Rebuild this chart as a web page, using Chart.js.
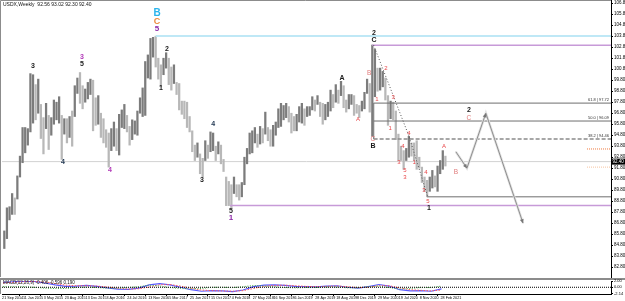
<!DOCTYPE html>
<html>
<head>
<meta charset="utf-8">
<script src="https://cdn.jsdelivr.net/npm/chart.js@4.4.1/dist/chart.umd.min.js"></script>
<style>
html, body { margin: 0; padding: 0; background: #fff; }
#wrap { position: relative; width: 625px; height: 301px; overflow: hidden; }
#main { position: absolute; left: 0; top: 0; width: 625px; height: 278px; }
#macd { position: absolute; left: 0; top: 278px; width: 625px; height: 23px; }
</style>
</head>
<body>
<div id="wrap">
<canvas id="main" width="625" height="278"></canvas>
<canvas id="macd" width="625" height="23"></canvas>
</div>
<script>
// USDX weekly, one bar = two weeks, first bar = week of 13 Oct 2014
var barLow = [
  84.5, 85.4, 87.1, 87.6, 87.6, 89.0, 91.0, 92.3, 93.2, 93.9,
  95.1, 95.9, 96.2, 96.8, 94.5, 93.1, 95.4, 93.5, 94.8, 95.8,
  96.2, 95.9, 92.6, 94.9, 94.1, 94.6, 93.8, 96.5, 98.6, 97.7,
  97.2, 97.8, 98.1, 98.5, 95.2, 95.7, 95.8, 94.6, 94.1, 93.7,
  91.9, 93.4, 93.8, 93.4, 93.0, 95.5, 95.4, 95.1, 93.9, 94.4,
  94.9, 94.8, 96.8, 96.5, 96.6, 100.0, 99.9, 101.9, 101.0, 99.9,
  99.2, 100.3, 100.9, 99.4, 98.9, 99.5, 98.5, 97.1, 96.7, 96.3,
  95.5, 95.1, 93.3, 92.5, 92.8, 91.3, 91.0, 92.5, 92.7, 93.3,
  93.4, 92.5, 93.1, 92.2, 91.5, 88.4, 88.4, 88.2, 89.5, 89.2,
  88.9, 89.2, 90.3, 92.2, 93.1, 93.2, 94.1, 93.7, 94.0, 94.1,
  94.9, 94.3, 93.8, 93.8, 94.8, 95.5, 95.6, 96.2, 96.4, 96.0,
  95.0, 95.2, 95.2, 96.0, 95.9, 95.7, 96.5, 96.6, 97.1, 97.0,
  97.6, 96.5, 95.8, 96.2, 96.5, 97.0, 97.3, 97.8, 97.7, 98.4,
  97.3, 96.9, 97.2, 97.6, 96.6, 96.8, 96.4, 97.0, 97.2, 98.6,
  96.9, 94.7, 98.3, 98.8, 98.9, 99.2, 98.0, 95.7, 96.3, 96.2,
  94.4, 92.5, 92.5, 91.7, 92.5, 92.8, 92.9, 92.5, 91.7, 91.8,
  90.5, 89.7, 89.2, 89.7, 90.0, 90.1, 89.7, 91.3, 91.7, 92.0
];
var barHigh = [
  86.1, 88.2, 88.3, 89.5, 89.1, 91.1, 92.9, 95.5, 95.5, 95.4,
  100.4, 100.3, 99.4, 99.9, 97.6, 96.4, 97.7, 96.6, 96.4, 98.0,
  97.8, 98.3, 96.6, 96.3, 96.3, 96.5, 97.0, 99.3, 100.0, 100.5,
  99.3, 99.0, 99.6, 99.9, 99.8, 98.2, 98.4, 96.8, 96.3, 95.3,
  95.0, 95.4, 96.0, 95.4, 96.7, 97.1, 97.6, 96.6, 95.6, 96.2,
  96.1, 97.0, 98.2, 99.1, 101.5, 102.1, 103.6, 103.7, 103.8, 101.8,
  101.2, 101.8, 102.3, 101.8, 101.0, 101.2, 99.6, 99.5, 97.9, 97.9,
  97.8, 96.5, 95.2, 93.9, 94.1, 93.1, 92.7, 94.3, 93.9, 95.1,
  95.0, 93.8, 94.2, 93.9, 92.6, 91.0, 90.6, 90.3, 91.0, 90.3,
  90.3, 90.5, 92.8, 93.6, 95.0, 95.2, 95.5, 94.9, 95.6, 95.4,
  96.9, 95.5, 95.3, 95.7, 96.0, 97.2, 97.7, 97.5, 97.7, 97.4,
  96.8, 96.5, 96.7, 97.4, 97.7, 97.2, 97.4, 97.4, 98.3, 98.0,
  98.4, 97.8, 97.7, 97.6, 97.8, 98.9, 98.5, 99.4, 98.9, 99.7,
  99.3, 98.0, 98.5, 98.5, 98.4, 97.6, 97.5, 97.9, 98.7, 99.9,
  99.5, 103.0, 102.6, 100.9, 100.9, 100.6, 100.0, 98.4, 97.9, 97.8,
  97.0, 94.9, 93.8, 93.4, 93.6, 94.7, 94.1, 94.1, 94.3, 92.8,
  91.9, 91.0, 90.7, 91.0, 91.6, 91.1, 92.0, 92.5, 93.4, 92.9
];
var lastClose = 92.40;
var headerText = 'USDX,Weekly  92.56 93.02 92.30 92.40';

var priceTicks = [106.80, 105.80, 104.80, 103.80, 102.80, 101.80, 100.80, 99.80, 98.80,
  97.80, 96.80, 95.80, 94.80, 93.80, 92.80, 91.80, 90.80, 89.80, 88.80, 87.80,
  86.80, 85.80, 84.80, 83.80, 82.80];

var dateTicks = ['21 Sep 2014', '11 Jan 2015', '3 May 2015', '23 Aug 2015', '13 Dec 2015',
  '3 Apr 2016', '24 Jul 2016', '13 Nov 2016', '5 Mar 2017', '25 Jun 2017', '15 Oct 2017',
  '4 Feb 2018', '27 May 2018', '16 Sep 2018', '6 Jan 2019', '28 Apr 2019', '18 Aug 2019',
  '8 Dec 2019', '29 Mar 2020', '19 Jul 2020', '8 Nov 2020', '28 Feb 2021'];
var dateTickWeeks = [-3, 13, 29, 45, 61, 77, 93, 109, 125, 141, 157, 173, 189, 205, 221,
  237, 253, 269, 285, 301, 317, 333];

// MACD(12,26,9), one value every 8 weeks
var macdLine = [1.6, 1.8, 2.0, 1.9, 1.4, 0.8, 0.3, 0.4, 0.6, 0.3, -0.2, -0.6, -0.7, -0.3,
  0.8, 1.2, 0.8, 0.0, -0.8, -1.3, -1.1, -1.2, -1.4, -0.9, 0.2, 0.7, 0.8, 0.6, 0.3, 0.2,
  0.1, 0.4, 0.5, 0.0, -0.3, 0.2, 0.9, 0.4, -0.8, -1.2, -1.1, -1.3, -0.5];
var macdSignal = [1.4, 1.6, 1.8, 1.9, 1.7, 1.2, 0.7, 0.5, 0.5, 0.4, 0.1, -0.3, -0.6, -0.5,
  0.1, 0.8, 0.9, 0.4, -0.3, -0.9, -1.1, -1.2, -1.3, -1.1, -0.4, 0.3, 0.6, 0.7, 0.5, 0.3,
  0.2, 0.3, 0.4, 0.2, -0.1, 0.0, 0.5, 0.5, -0.2, -0.8, -1.0, -1.2, -0.9];
var macdHist = [0.2, 0.2, 0.2, 0.0, -0.3, -0.4, -0.4, -0.1, 0.1, -0.1, -0.3, -0.3, -0.1, 0.2,
  0.7, 0.4, -0.1, -0.4, -0.5, -0.4, 0.0, 0.0, -0.1, 0.2, 0.6, 0.4, 0.2, -0.1, -0.2, -0.1,
  -0.1, 0.1, 0.1, -0.2, -0.2, 0.2, 0.4, -0.1, -0.6, -0.4, -0.1, -0.1, 0.4];
var macdTicks = [2.00, 0.00, -2.14];
var macdText = 'MACD(12,26,9) -0.406 -0.596 0.190';

// horizontal levels: [from week, price, kind]
var hLevels = [[117, 103.82, 'cyan'], [283, 102.99, 'purple'], [174, 88.40, 'purple']];
// fibonacci of the 2020 high to the 2021 low
var fibStartWeek = 284;
var fibLevels = [['61.8', 97.72], ['50.0', 96.09], ['38.2', 94.46]];
var fibZero = [325, 89.20];
var waveConnector = [[284, 102.99], [311, 94.74], [325.5, 89.20]];
var projection = [[347, 93.3], [355.5, 91.8], [370, 96.8], [398.5, 86.8]];
var pendingLines = [[447.5, 93.55, 'orange'], [447.5, 91.90, 'peach']];

// wave counts: [week, price, text, kind]
var waveLabels = [
  [23, 101.1, '3', 'k'], [60.5, 101.9, '3', 'm'], [60.5, 101.25, '5', 'k'],
  [118, 105.9, 'B', 'cyan'], [118, 105.1, 'C', 'orange'], [118, 104.45, '5', 'violet'],
  [125.7, 102.65, '2', 'k'], [121, 99.1, '1', 'k'], [46, 92.35, '4', 'navy'],
  [82, 91.65, '4', 'm'], [152.5, 90.75, '3', 'k'], [161, 95.8, '4', 'navy'],
  [174.7, 87.9, '5', 'k'], [174.7, 87.25, '1', 'violet'], [259.8, 100.0, 'A', 'k'],
  [280.5, 100.45, 'B', 'pink'], [272, 96.2, 'A', 'red'], [284.3, 104.1, '2', 'k'],
  [284.3, 103.45, 'C', 'k'], [283.5, 94.45, 'C', 'pink'], [283.5, 93.8, 'B', 'k'],
  [293.5, 100.9, '2', 'red'], [286.6, 98.1, '1', 'red'], [298.9, 98.2, '3', 'red'],
  [296.6, 95.45, '1', 'red'], [311.1, 95.0, '4', 'red'], [306.5, 93.75, '4', 'red'],
  [315, 92.35, '1', 'red'], [303.4, 92.35, '3', 'red'], [308, 91.65, '5', 'red'],
  [308, 91.0, '3', 'red'], [324, 91.45, '4', 'red'], [322.6, 89.8, '3', 'red'],
  [325.7, 88.8, '5', 'red'], [326.4, 88.15, '1', 'k'], [338, 93.75, 'A', 'red'],
  [347, 91.45, 'B', 'pink'], [357, 97.1, '2', 'k'], [357, 96.35, 'C', 'pink']
];

var weekMin = -0.77, weekMax = 465.9;

var labelStyle = {
  k: ['bold 7px Arial', '#1a1a1a'],
  m: ['bold 7px Arial', '#b23ab8'],
  cyan: ['bold 10px Arial', '#2ab4ec'],
  orange: ['bold 9px Arial', '#ec8a3c'],
  violet: ['bold 8px Arial', '#8d2aa8'],
  navy: ['bold 7px Arial', '#1f3550'],
  pink: ['6.5px Arial', '#e07a7a'],
  red: ['6px Arial', '#e8474a']
};
var levelColor = { cyan: '#bfe8f6', purple: '#c79ad8', orange: '#f0783c', peach: '#f6c29e' };

Chart.defaults.font.family = 'Arial, "Liberation Sans", sans-serif';

function pts(list) {
  return list.map(function(p) { return { x: p[0], y: p[1] }; });
}

var lineSets = [];
lineSets.push({ type: 'line', data: pts([[weekMin, lastClose], [weekMax, lastClose]]),
  borderColor: '#d2d2d2', borderWidth: 1, order: 20 });
hLevels.forEach(function(l) {
  lineSets.push({ type: 'line', data: pts([[l[0], l[1]], [weekMax, l[1]]]),
    borderColor: levelColor[l[2]], borderWidth: l[2] === 'cyan' ? 2 : 1.5, order: 4 });
});
fibLevels.forEach(function(f, i) {
  lineSets.push({ type: 'line', data: pts([[fibStartWeek, f[1]], [weekMax, f[1]]]),
    borderColor: i === 2 ? '#8a8a8a' : '#6e6e6e', borderWidth: i === 2 ? 1.6 : 1,
    borderDash: i === 2 ? [4, 2] : [], order: 3 });
});
lineSets.push({ type: 'line', data: pts([[fibZero[0], fibZero[1]], [weekMax, fibZero[1]]]),
  borderColor: '#6e6e6e', borderWidth: 1, order: 3 });
lineSets.push({ type: 'line', data: pts([[fibStartWeek, fibLevels[0][1]], [fibStartWeek, fibLevels[2][1]]]),
  borderColor: '#8a8a8a', borderWidth: 1, order: 3 });
lineSets.push({ type: 'line', data: pts(waveConnector),
  borderColor: '#555', borderWidth: 1, borderDash: [1, 2], order: 2 });
lineSets.push({ type: 'line', data: pts(projection),
  borderColor: '#e2e2e2', borderWidth: 2.5, order: 2 });
lineSets.push({ type: 'line', data: pts(projection),
  borderColor: '#8e8e8e', borderWidth: 1, order: 1 });
pendingLines.forEach(function(l) {
  lineSets.push({ type: 'line', data: pts([[l[0], l[1]], [weekMax, l[1]]]),
    borderColor: levelColor[l[2]], borderWidth: 1, borderDash: [1, 1], order: 1 });
});

var bars = {
  type: 'bar',
  data: barLow.map(function(lo, k) { return { x: 2 * k + 1, y: [lo, barHigh[k]] }; }),
  backgroundColor: function(c) {
    var i = c.dataIndex;
    if (i > 0 && barHigh[i] + barLow[i] < barHigh[i - 1] + barLow[i - 1]) return '#b8b8b8';
    return '#7c7c7c';
  },
  barThickness: 1.6,
  grouped: false,
  order: 10
};

function arrowHead(ctx, x0, y0, x1, y1) {
  var a = Math.atan2(y1 - y0, x1 - x0), s = 4.5;
  ctx.beginPath();
  ctx.moveTo(x1, y1);
  ctx.lineTo(x1 - s * Math.cos(a - 0.45), y1 - s * Math.sin(a - 0.45));
  ctx.lineTo(x1 - s * Math.cos(a + 0.45), y1 - s * Math.sin(a + 0.45));
  ctx.closePath();
  ctx.fill();
}

var mainDeco = {
  id: 'mainDeco',
  afterDatasetsDraw: function(chart) {
    var c = chart.ctx, xs = chart.scales.x, ys = chart.scales.y, a = chart.chartArea;
    c.save();
    // frame
    c.strokeStyle = '#8c8c8c';
    c.lineWidth = 1;
    c.beginPath();
    c.moveTo(0.5, a.bottom); c.lineTo(0.5, 0.5); c.lineTo(a.right, 0.5);
    c.stroke();
    // arrowheads on the projection
    c.fillStyle = '#777';
    for (var i = 1; i < projection.length; i++) {
      arrowHead(c, xs.getPixelForValue(projection[i - 1][0]), ys.getPixelForValue(projection[i - 1][1]),
        xs.getPixelForValue(projection[i][0]), ys.getPixelForValue(projection[i][1]));
    }
    // wave labels
    c.textAlign = 'center';
    c.textBaseline = 'middle';
    waveLabels.forEach(function(l) {
      var st = labelStyle[l[3]];
      c.font = st[0];
      c.fillStyle = st[1];
      c.fillText(l[2], xs.getPixelForValue(l[0]), ys.getPixelForValue(l[1]));
    });
    // fib texts
    c.font = '4px Arial';
    c.fillStyle = '#333';
    c.textAlign = 'right';
    c.textBaseline = 'bottom';
    fibLevels.forEach(function(f) {
      c.fillText(f[0] + ' | ' + f[1].toFixed(2), a.right - 2, ys.getPixelForValue(f[1]) - 1);
    });
    // header
    c.font = '5px Arial';
    c.fillStyle = '#111';
    c.textAlign = 'left';
    c.textBaseline = 'top';
    c.fillText(headerText, 3, 2);
    // current price box
    var py = ys.getPixelForValue(lastClose);
    c.fillStyle = '#000';
    c.fillRect(a.right, py - 3, 14, 6);
    c.fillStyle = '#fff';
    c.font = '4.5px Arial';
    c.textBaseline = 'middle';
    c.fillText(lastClose.toFixed(2), a.right + 1.5, py);
    c.restore();
  }
};

new Chart(document.getElementById('main'), {
  type: 'bar',
  data: { datasets: [bars].concat(lineSets) },
  options: {
    responsive: false,
    animation: false,
    devicePixelRatio: 1,
    layout: { padding: { left: 2, top: 0, right: 0, bottom: 1 } },
    elements: { point: { radius: 0 }, line: { tension: 0 } },
    plugins: { legend: { display: false }, tooltip: { enabled: false } },
    scales: {
      x: { type: 'linear', min: weekMin, max: weekMax, display: false, offset: false },
      y: {
        position: 'right',
        min: 103.82 - 241 / 11,
        max: 103.82 + 36 / 11,
        afterBuildTicks: function(s) { s.ticks = priceTicks.map(function(v) { return { value: v }; }); },
        afterFit: function(s) { s.width = 14; s.paddingTop = 0; s.paddingBottom = 0; },
        ticks: {
          autoSkip: false, padding: 1, color: '#000', font: { size: 4.5 },
          callback: function(v) { return Number(v).toFixed(2); }
        },
        grid: { drawOnChartArea: false, tickLength: 2, color: '#000' },
        border: { color: '#000' }
      }
    }
  },
  plugins: [mainDeco]
});

var macdDeco = {
  id: 'macdDeco',
  beforeDraw: function(chart) {
    var c = chart.ctx;
    c.save();
    c.fillStyle = '#8c8c8c';
    c.fillRect(0, 0, 625, 2);
    c.fillRect(0, 2, 1, chart.chartArea.bottom - 2);
    c.restore();
  },
  afterDatasetsDraw: function(chart) {
    var c = chart.ctx;
    c.save();
    c.font = '4.5px Arial';
    c.fillStyle = '#111';
    c.textAlign = 'left';
    c.textBaseline = 'top';
    c.fillText(macdText, 3, 3);
    c.restore();
  }
};

function macdPts(list) {
  return list.map(function(v, i) { return { x: i * 8, y: v }; });
}

new Chart(document.getElementById('macd'), {
  type: 'line',
  data: {
    datasets: [
      { data: pts([[weekMin, 0], [weekMax, 0]]), borderColor: '#000', borderWidth: 1, borderDash: [1, 1] },
      { data: macdPts(macdHist), borderColor: '#3fa83f', borderWidth: 1, borderDash: [1, 1.5] },
      { data: macdPts(macdSignal), borderColor: '#ff5a5a', borderWidth: 1, borderDash: [1.5, 1.5] },
      { data: macdPts(macdLine), borderColor: '#5a5aff', borderWidth: 1.2 }
    ]
  },
  options: {
    responsive: false,
    animation: false,
    devicePixelRatio: 1,
    layout: { padding: { left: 2, top: 3, right: 0, bottom: 0 } },
    elements: { point: { radius: 0 }, line: { tension: 0 } },
    plugins: { legend: { display: false }, tooltip: { enabled: false } },
    scales: {
      x: {
        type: 'linear', min: weekMin, max: weekMax, offset: false,
        afterBuildTicks: function(s) { s.ticks = dateTickWeeks.map(function(v) { return { value: v }; }); },
        afterFit: function(s) { s.height = 7; s.paddingLeft = 0; s.paddingRight = 0; },
        ticks: {
          autoSkip: false, maxRotation: 0, align: 'start', labelOffset: 3, padding: 0,
          color: '#000', font: { size: 3.7 },
          callback: function(v, i) { return dateTicks[i]; }
        },
        grid: { drawOnChartArea: false, tickLength: 2, color: '#000' },
        border: { color: '#000' }
      },
      y: {
        position: 'right', min: -2.2, max: 2.05,
        afterBuildTicks: function(s) { s.ticks = macdTicks.map(function(v) { return { value: v }; }); },
        afterFit: function(s) { s.width = 14; s.paddingTop = 0; s.paddingBottom = 0; },
        ticks: {
          autoSkip: false, padding: 1, color: '#000', font: { size: 4 },
          callback: function(v) { return Number(v).toFixed(2); }
        },
        grid: { drawOnChartArea: false, tickLength: 2, color: '#000' },
        border: { color: '#000' }
      }
    }
  },
  plugins: [macdDeco]
});
</script>
</body>
</html>
